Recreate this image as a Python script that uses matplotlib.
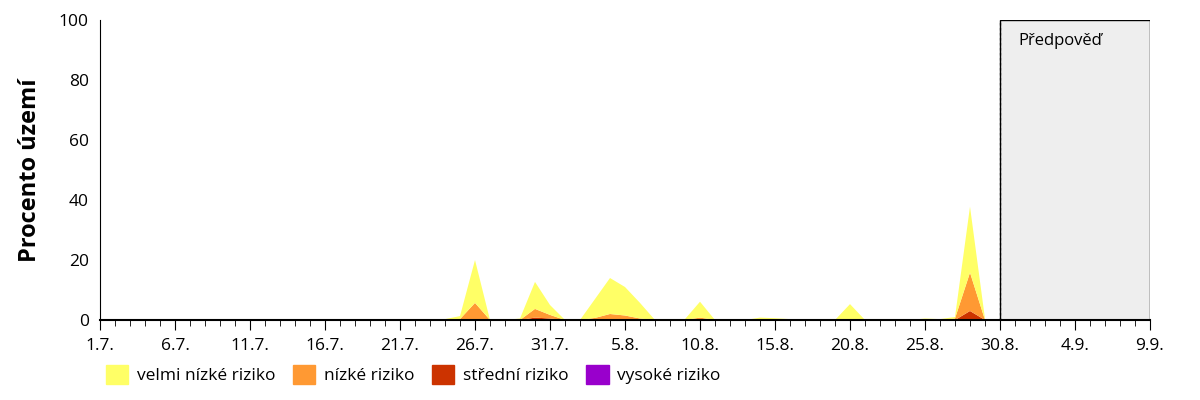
import matplotlib
matplotlib.use("Agg")
import matplotlib.pyplot as plt
import numpy as np
from matplotlib.patches import Patch

plt.rcParams['font.family'] = ['Open Sans', 'DejaVu Sans']

n_days = 71
forecast_start = 60
tick_labels = ["1.7.", "6.7.", "11.7.", "16.7.", "21.7.", "26.7.", "31.7.", "5.8.",
               "10.8.", "15.8.", "20.8.", "25.8.", "30.8.", "4.9.", "9.9."]

# values (% of territory) per day index, non-zero entries only
very_low_pts = {23: 0.3, 24: 1.0, 25: 14.3, 28: 0.5, 29: 9.0, 30: 3.3, 33: 6.3, 34: 12.0,
                35: 9.5, 36: 5.2, 39: 0.3, 40: 5.3, 44: 0.8, 45: 0.6, 46: 0.3, 50: 5.3,
                55: 0.5, 56: 0.3, 57: 0.5, 58: 22.0, 59: 0.4}
low_pts = {24: 0.3, 25: 5.7, 29: 2.9, 30: 1.2, 33: 0.7, 34: 2.0, 35: 1.5, 36: 0.5,
           40: 0.8, 57: 0.5, 58: 12.8}
mid_pts = {29: 0.8, 30: 0.5, 58: 2.7}
high_pts = {58: 0.3}

def arr(pts):
    a = np.zeros(forecast_start)
    for k, v in pts.items():
        a[k] = v
    return a

days = np.arange(forecast_start)
series = [arr(high_pts), arr(mid_pts), arr(low_pts), arr(very_low_pts)]
colors = ['#9900CC', '#CC3300', '#FF9933', '#FFFF66']

fig = plt.figure(figsize=(12, 4), dpi=100)
ax = fig.add_axes([100/1200, 0.2, 1050/1200, 0.75])
ax.stackplot(days, series[0], series[1], series[2], series[3], colors=colors, linewidth=0)
ax.axvspan(forecast_start, n_days - 1, facecolor='#EEEEEE', edgecolor='black', linewidth=1, zorder=0)
ax.axvline(forecast_start, color='black', linestyle=(0, (2, 2)), linewidth=0.9)
ax.text(forecast_start + 4, 93, "Předpověď", ha='center', va='center', fontsize=12)

ax.set_xlim(0, n_days - 1)
ax.set_ylim(0, 100)
ax.set_xticks(np.arange(0, n_days, 5))
ax.set_xticklabels(tick_labels, fontsize=12.5)
ax.set_xticks(np.arange(0, n_days), minor=True)
ax.tick_params(axis='x', which='major', length=7, direction='out', pad=6)
ax.tick_params(axis='x', which='minor', length=4, direction='out')
ax.set_yticks([0, 20, 40, 60, 80, 100])
ax.tick_params(axis='y', labelsize=12.5, length=0, pad=8)
ax.set_ylabel("Procento území", fontsize=17, fontweight='bold', labelpad=12)
for s in ['top', 'right']:
    ax.spines[s].set_visible(False)
ax.spines['bottom'].set_linewidth(1.5)

handles = [Patch(color=c) for c in ['#FFFF66', '#FF9933', '#CC3300', '#9900CC']]
labels = ["velmi nízké riziko", "nízké riziko", "střední riziko", "vysoké riziko"]
fig.legend(handles, labels, loc='lower left', bbox_to_anchor=(0.075, 0.0), ncol=4,
           frameon=False, fontsize=12.5, handlelength=1.3, handleheight=1.3,
           columnspacing=1.0, handletextpad=0.5)

fig.savefig("out.png", dpi=100)
